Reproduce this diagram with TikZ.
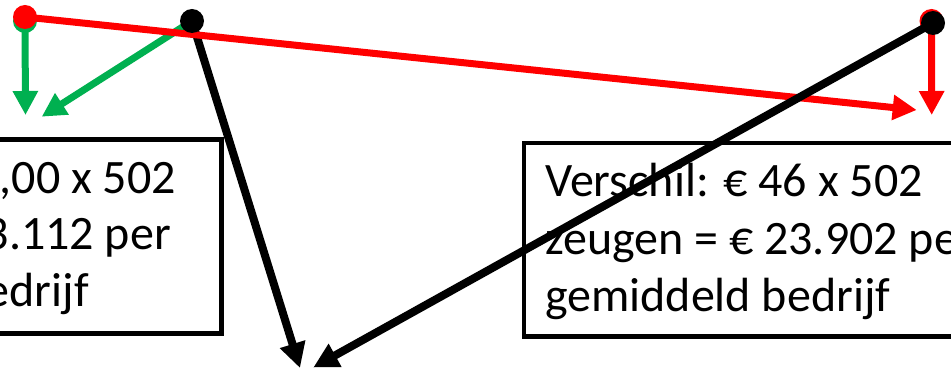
\documentclass[tikz,border=0pt]{standalone}
\usepackage{fontspec}
\setmainfont{Carlito}
\usetikzlibrary{arrows.meta}
\definecolor{offgreen}{HTML}{00B050}
\definecolor{offred}{HTML}{FF0000}
\begin{document}
\begin{tikzpicture}[x=1pt,y=-1pt,
  dot/.style={circle,inner sep=0pt,minimum size=24pt},
  boxline/.style={draw=black,line width=4.5pt},
  txt/.style={inner sep=0pt,font=\fontsize{48}{57}\selectfont},
  garrow/.style={draw=offgreen,line width=7pt,-{Triangle[width=24pt,length=24pt]}},
  rarrow/.style={draw=offred,line width=7pt,-{Triangle[width=24pt,length=24pt]}},
  karrow/.style={draw=black,line width=8pt,-{Triangle[width=25pt,length=25pt]}}]
\useasboundingbox (0,0) rectangle (951,371);
\begin{scope}
\clip (0,0) rectangle (951,371);
% boxes
\draw[boxline] (-60,139.5) rectangle (221.5,333.3);
\draw[boxline] (524,143) rectangle (1010,336.5);
% left box text
\node[txt,anchor=base east] (l1) at (176,194) {,00 x 502};
\node[txt,anchor=base east] (l2) at (171,250) {3.112 per};
\node[txt,anchor=base east] (l3) at (89,307) {edrijf};
% right box text
\node[txt,anchor=base west] (r1) at (545,197) {Verschil: € 46 x 502};
\node[txt,anchor=base west] (r2) at (545,255) {zeugen = € 23.902 per};
\node[txt,anchor=base west] (r3) at (545,311.5) {gemiddeld bedrijf};
% dot positions
\coordinate (gdot) at (25,21);
\coordinate (rdotl) at (25,17);
\coordinate (kdotl) at (192,21);
\coordinate (rdotr) at (931.5,21);
\coordinate (kdotr) at (933,23);
% tips
\coordinate (gt1) at (25.5,115);
\coordinate (gt2) at (41.7,116.7);
\coordinate (rt1) at (916.7,110);
\coordinate (rt2) at (931.7,115);
\coordinate (kt1) at (300,368);
\coordinate (kt2) at (313.3,367.5);
% green
\node[dot,fill=offgreen] (gd) at (gdot) {};
\draw[garrow] (gd.center) -- (gt1);
\draw[garrow] (kdotl) -- (gt2);
% black left arrow
\draw[karrow] (kdotl) -- (kt1);
% red
\node[dot,fill=offred] (rl) at (rdotl) {};
\node[dot,fill=offred] (rr) at (rdotr) {};
\draw[rarrow] (rl.center) -- (rt1);
\draw[rarrow] (rr.center) -- (rt2);
% black dots and right arrow
\node[dot,fill=black] (kl) at (kdotl) {};
\node[dot,fill=black] (kr) at (kdotr) {};
\draw[karrow] (kr.center) -- (kt2);
\end{scope}
\end{tikzpicture}
\end{document}
